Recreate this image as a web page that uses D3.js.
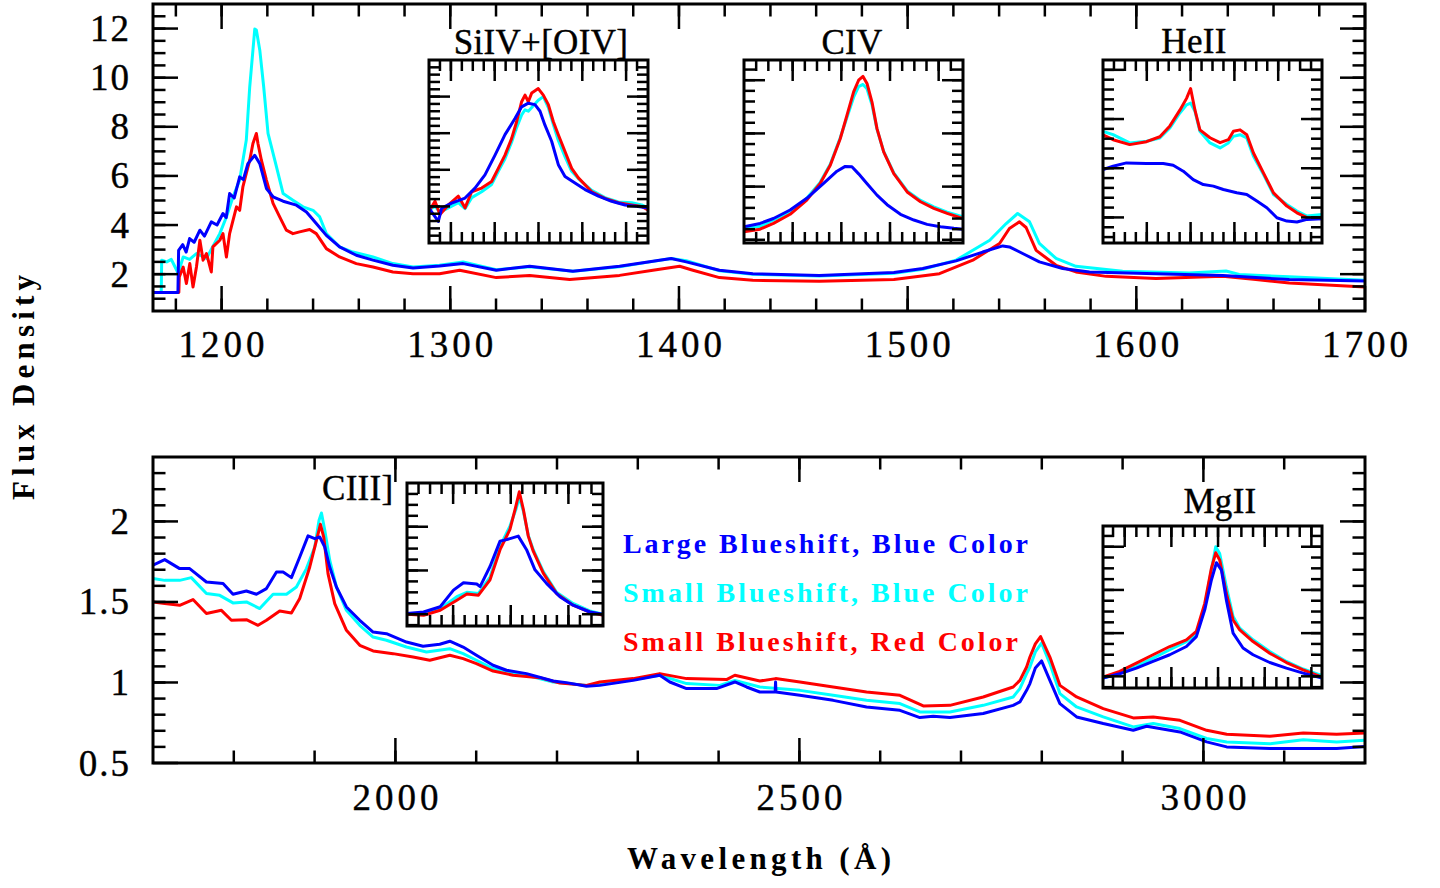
<!DOCTYPE html>
<html><head><meta charset="utf-8">
<script src="https://cdn.jsdelivr.net/npm/d3@7"></script>
<style>body{margin:0;background:#fff;} svg{display:block}</style>
</head><body>
<svg id="c" width="1440" height="888"></svg>
<script>
// ---------------- DATA ----------------
const topXTicks = [1200,1300,1400,1500,1600,1700];
const topYTicks = [2,4,6,8,10,12];
const botXTicks = [2000,2500,3000];
const botYTicks = [0.5,1,1.5,2];

const topBlueWave = [1170,1180.9,1181.2,1183,1184.5,1186,1188,1190.5,1192.5,1195.5,1198,1200.6,1202,1203.5,1205.5,1207.9,1209.5,1211.5,1214.5,1216.7,1219.6,1222.5,1226.9,1232.7,1237.1,1241.4,1245.8,1251.6,1258.9,1266.2,1274.9,1283.7,1295.3,1305.6,1320.1,1334.7,1353.6,1374,1388.6,1396.6,1403.2,1417.7,1432.3,1461.4,1494,1506.6,1521.2,1532.8,1541.6,1544.5,1550.3,1557.6,1567.8,1579.5,1608.6,1637.8,1652.3,1666.9,1700];
const topBlueFlux = [1.25,1.25,2.97,3.2,2.9,3.45,3.3,3.79,3.55,4.13,4.0,4.47,4.3,5.28,5.1,5.96,5.85,6.5,6.84,6.5,5.49,5.15,4.97,4.81,4.53,4.06,3.58,3.11,2.77,2.57,2.36,2.25,2.33,2.43,2.16,2.32,2.12,2.32,2.53,2.64,2.50,2.16,2.02,1.95,2.07,2.23,2.54,2.90,3.15,3.11,2.84,2.50,2.23,2.09,2.02,1.95,1.86,1.78,1.72];

const topCyanWave = [1170,1173.6,1173.8,1176,1178,1179.6,1181,1183.2,1186,1189.0,1191,1193.4,1196,1199.2,1202.1,1205.0,1207.9,1210.8,1212.3,1213.7,1214.5,1215.2,1216.7,1218.4,1220.3,1224.0,1226.9,1231.2,1235.6,1240.0,1242.9,1245.8,1251.6,1257.4,1266.2,1274.9,1283.7,1295.3,1305.6,1320.1,1334.7,1353.6,1374,1388.6,1396.6,1403.2,1417.7,1432.3,1461.4,1494,1506.6,1521.2,1535.9,1543.1,1548.1,1553.3,1557.6,1564.9,1573.6,1594,1623.2,1639.2,1645,1666.9,1700];
const topCyanFlux = [1.25,1.25,2.57,2.5,2.6,2.3,2.03,2.70,2.6,2.84,2.75,2.64,3.1,3.65,4.33,5.15,5.83,7.46,9.63,11.12,11.98,11.94,11.12,9.63,7.73,6.37,5.28,5.01,4.74,4.60,4.33,3.65,3.11,2.90,2.70,2.43,2.29,2.36,2.50,2.18,2.30,2.12,2.30,2.52,2.64,2.55,2.14,2.0,1.93,2.04,2.2,2.57,3.38,4.06,4.47,4.13,3.25,2.64,2.32,2.12,2.05,2.13,1.99,1.89,1.75];

const topRedWave = [1170,1181.3,1181.5,1183.2,1184.6,1186.1,1187.5,1189.0,1190.5,1191.9,1193.4,1195.5,1196.2,1199.2,1200.6,1202.1,1203.5,1206.5,1207.9,1209.3,1210.8,1212.3,1213.7,1215.2,1215.9,1217.4,1219.6,1222.5,1225.4,1228.3,1231.2,1234.1,1238.5,1241.4,1245.8,1251.6,1258.9,1266.2,1274.9,1283.7,1295.3,1304.1,1320.1,1334.7,1352.2,1374,1388.6,1400.3,1406.1,1417.7,1432.3,1461.4,1494,1513.9,1528.5,1540.2,1544.5,1548.9,1551.8,1556.2,1564.9,1573.6,1586.8,1608.6,1637.8,1652.3,1666.9,1700];
const topRedFlux = [1.25,1.25,1.89,2.29,1.62,2.43,1.48,2.29,3.38,2.57,2.84,2.09,3.11,3.38,3.65,2.70,3.65,4.74,4.60,5.55,6.10,6.64,7.32,7.73,7.32,6.64,5.83,4.88,4.33,3.79,3.65,3.72,3.82,3.65,3.04,2.70,2.43,2.29,2.09,2.02,2.02,2.16,1.86,1.95,1.78,1.95,2.16,2.32,2.16,1.86,1.75,1.71,1.78,2.02,2.57,3.25,3.86,4.13,3.90,2.97,2.36,2.09,1.91,1.82,1.91,1.78,1.64,1.48];

const botBlueWave = [1700,1714.5,1733,1745.4,1766.1,1786.7,1799,1815.6,1828,1840.4,1852.8,1861,1871.3,1881.6,1891.9,1900.2,1906.4,1912.6,1918.7,1927,1939.4,1955.9,1972.4,1988.9,2013.7,2034.2,2054.9,2067.3,2083.8,2100.3,2120.9,2137.5,2162.3,2195.2,2211.7,2236.5,2253,2294.2,2327.2,2339.6,2360.3,2397.4,2420.1,2434.6,2451,2470,2470.5,2471,2500.6,2541.8,2583.1,2624.4,2649.1,2665.6,2686.3,2727.5,2764.6,2772.9,2781.2,2785.3,2792,2799.7,2810,2822.4,2843.1,2876,2913.2,2929.7,2970.9,3004,3028.8,3082.4,3123.6,3164.9,3200];
const botBlueFlux = [1.728,1.763,1.707,1.707,1.624,1.614,1.548,1.568,1.548,1.583,1.686,1.686,1.651,1.779,1.91,1.893,1.903,1.841,1.717,1.593,1.469,1.386,1.313,1.303,1.251,1.225,1.237,1.256,1.22,1.169,1.107,1.076,1.055,1.009,0.999,0.976,0.982,1.013,1.045,1.003,0.962,0.962,1.003,0.972,0.941,0.941,1.003,0.941,0.92,0.889,0.848,0.827,0.782,0.79,0.782,0.807,0.858,0.879,0.951,0.993,1.09,1.134,1.013,0.869,0.786,0.745,0.703,0.728,0.693,0.631,0.60,0.59,0.59,0.59,0.603];

const botCyanWave = [1700,1714.5,1733,1747.4,1766.1,1782.6,1799,1815.6,1832.1,1848.6,1865.2,1877.5,1889.9,1900.2,1905.5,1908.5,1912.6,1918.7,1927,1939.4,1955.9,1972.4,1988.9,2013.7,2038.4,2067.3,2083.8,2100.3,2120.9,2137.5,2162.3,2195.2,2236.5,2253,2327.2,2360.3,2401.5,2420.1,2451,2500.6,2541.8,2583.1,2624.4,2649.1,2686.3,2727.5,2764.6,2772.9,2781.2,2785.3,2792,2799.7,2810,2822.4,2843.1,2876,2913.2,2937.9,2970.9,3004,3028.8,3082.4,3123.6,3164.9,3200];
const botCyanFlux = [1.645,1.634,1.634,1.651,1.552,1.541,1.494,1.50,1.459,1.548,1.548,1.593,1.707,1.841,2.007,2.052,1.945,1.759,1.593,1.448,1.355,1.282,1.262,1.22,1.189,1.21,1.179,1.138,1.086,1.071,1.045,1.003,0.982,0.988,1.045,0.993,0.982,1.013,0.972,0.951,0.92,0.889,0.869,0.817,0.817,0.858,0.91,0.962,1.055,1.096,1.19,1.245,1.117,0.931,0.848,0.786,0.724,0.745,0.714,0.652,0.631,0.62,0.645,0.631,0.641];

const botRedWave = [1700,1714.5,1733,1749.5,1766.1,1784.7,1797,1815.6,1830,1840.4,1856.8,1871.3,1881.6,1894,1902.3,1907.2,1911.3,1916.6,1924.9,1939.4,1955.9,1972.4,1997.1,2021.9,2042.5,2067.3,2083.8,2100.3,2120.9,2145.7,2178.7,2203.5,2236.5,2253,2294.2,2327.2,2360.3,2409.8,2420.1,2451,2470.5,2500.6,2541.8,2583.1,2624.4,2653.3,2686.3,2727.5,2764.6,2772.9,2781.2,2785.3,2792,2798.5,2810,2822.4,2843.1,2876,2913.2,2937.9,2970.9,3004,3028.8,3082.4,3123.6,3164.9,3200];
const botRedFlux = [1.50,1.49,1.479,1.515,1.428,1.448,1.386,1.39,1.355,1.386,1.444,1.431,1.521,1.717,1.883,1.982,1.903,1.676,1.49,1.324,1.231,1.196,1.179,1.158,1.138,1.169,1.148,1.117,1.071,1.045,1.03,0.997,0.982,1.003,1.024,1.055,1.024,1.018,1.045,1.009,1.024,1.003,0.972,0.941,0.92,0.854,0.858,0.91,0.972,1.013,1.096,1.158,1.24,1.285,1.158,0.982,0.91,0.838,0.78,0.786,0.765,0.703,0.678,0.666,0.686,0.678,0.686];

const siivRedX  = [0,0.55,1.0,1.77,2.68,3.29,3.9,4.81,5.72,6.33,6.94,7.55,8.01,8.46,8.77,9.07,9.38,9.98,10.44,10.9,11.35,11.81,12.42,13.03,13.64,14.86,16.07,17.29,18.51,19.42,20];
const siivRed   = [0.43,0.57,0.39,0.52,0.64,0.48,0.70,0.75,0.84,1.02,1.20,1.43,1.66,1.93,2.02,1.93,2.05,2.11,2.02,1.89,1.66,1.48,1.25,1.02,0.89,0.70,0.61,0.55,0.52,0.50,0.45];
const siivCyan  = [0.45,0.50,0.42,0.48,0.55,0.47,0.62,0.70,0.80,0.98,1.15,1.38,1.58,1.75,1.82,1.80,1.85,1.95,2.0,1.85,1.62,1.40,1.18,0.98,0.88,0.72,0.62,0.56,0.55,0.52,0.48];
const siivBlueX = [0,0.85,1.16,2.07,3.29,4.2,5.11,6.03,6.94,7.85,8.46,9.07,9.68,10.14,10.59,11.2,11.81,12.42,13.33,14.25,15.47,16.68,17.9,19.1,20];
const siivBlue  = [0.477,0.295,0.477,0.545,0.614,0.75,0.93,1.20,1.48,1.70,1.86,1.91,1.89,1.80,1.61,1.39,1.07,0.91,0.82,0.73,0.64,0.57,0.52,0.50,0.477];

const civRedX  = [0,1.32,2.42,3.79,5.16,6.26,7.09,7.91,8.46,9.01,9.42,9.78,10.11,10.52,10.93,11.48,12.31,13.41,14.51,15.6,16.7,18];
const civRed   = [0.076,0.10,0.154,0.24,0.373,0.53,0.70,0.95,1.17,1.39,1.50,1.536,1.47,1.295,1.045,0.826,0.623,0.45,0.358,0.295,0.248,0.20];
const civCyan  = [0.108,0.125,0.186,0.26,0.39,0.54,0.71,0.96,1.15,1.34,1.44,1.46,1.42,1.27,1.04,0.83,0.63,0.46,0.37,0.31,0.26,0.215];
const civBlueX = [0,1.32,2.42,3.79,5.16,6.54,7.64,8.32,8.87,9.42,10.1,10.93,11.76,12.86,13.96,15.05,16.15,17.25,18];
const civBlue  = [0.123,0.154,0.20,0.28,0.39,0.53,0.645,0.69,0.686,0.62,0.53,0.42,0.33,0.24,0.186,0.145,0.123,0.108,0.10];

const heiiRedX  = [0,0.92,2.44,3.97,5.19,6.11,7.02,7.63,8.0,8.4,8.85,9.77,10.69,11.45,11.91,12.52,13.13,13.74,14.66,15.57,16.79,17.71,18.63,20];
const heiiRed   = [1.34,1.29,1.24,1.27,1.32,1.43,1.59,1.71,1.81,1.59,1.39,1.31,1.26,1.29,1.375,1.39,1.34,1.155,0.95,0.75,0.615,0.547,0.497,0.486];
const heiiCyan  = [1.375,1.341,1.257,1.274,1.307,1.409,1.561,1.645,1.662,1.578,1.375,1.257,1.206,1.257,1.324,1.341,1.307,1.122,0.936,0.733,0.632,0.564,0.514,0.53];
const heiiBlueX = [0,0.92,2.14,3.97,5.5,6.41,7.33,8.24,9.16,10.08,10.99,12.21,13.13,14.05,14.96,15.88,16.79,17.71,18.63,20];
const heiiBlue  = [0.986,1.02,1.054,1.047,1.047,1.03,0.97,0.885,0.834,0.818,0.784,0.75,0.733,0.666,0.598,0.497,0.463,0.453,0.48,0.486];

const ciiiRedX  = [0,1.44,2.88,4.32,5.19,6.2,7.2,8.07,8.93,9.45,9.74,10.09,10.52,10.95,11.82,12.97,14.4,15.85,17];
const ciiiRed   = [1.20,1.195,1.218,1.264,1.292,1.287,1.357,1.495,1.588,1.695,1.76,1.68,1.557,1.488,1.388,1.295,1.241,1.21,1.195];
const ciiiCyan  = [1.203,1.20,1.225,1.28,1.30,1.295,1.37,1.51,1.603,1.68,1.734,1.672,1.56,1.495,1.395,1.30,1.249,1.215,1.20];
const ciiiBlueX = [0,1.44,2.88,4.03,4.9,6.05,6.34,7.2,8.07,8.65,9.65,10.37,11.1,12.1,13.26,14.4,15.85,17];
const ciiiBlue  = [1.203,1.21,1.234,1.31,1.344,1.338,1.326,1.418,1.534,1.541,1.557,1.495,1.403,1.341,1.28,1.241,1.21,1.20];

const mgiiRedX  = [-9.86,-8.43,-7.0,-5.57,-4.14,-2.71,-1.86,-1.14,-0.57,-0.2,0.14,0.71,1.29,1.86,3.0,4.43,5.86,7.29,8.91];
const mgiiRed   = [0.997,1.023,1.061,1.10,1.138,1.169,1.208,1.338,1.50,1.572,1.539,1.385,1.261,1.215,1.161,1.107,1.064,1.03,0.997];
const mgiiCyan  = [0.992,1.015,1.046,1.084,1.123,1.161,1.192,1.323,1.492,1.60,1.569,1.415,1.277,1.223,1.169,1.115,1.069,1.034,1.003];
const mgiiBlueX = [-9.86,-8.43,-7.0,-5.57,-4.14,-2.71,-1.86,-1.14,-0.57,-0.14,0.29,0.71,1.29,2.14,3.0,4.43,5.86,7.29,8.91];
const mgiiBlue  = [0.992,1.012,1.038,1.069,1.10,1.138,1.184,1.308,1.446,1.526,1.492,1.354,1.20,1.131,1.10,1.064,1.038,1.015,0.992];

const legendLabels = ["Large Blueshift, Blue Color","Small Blueshift, Blue Color","Small Blueshift, Red Color"];
const seriesColors = ["#0000ff","#00ffff","#ff0000"];

// ---------------- DRAWING ----------------
const BLUE = seriesColors[0], CYAN = seriesColors[1], RED = seriesColors[2];
const svg = d3.select('#c');
let clipN = 0;

function tickVals(d0, d1, step) {
  const lo = Math.min(d0, d1), hi = Math.max(d0, d1), a = [];
  for (let i = Math.ceil(lo / step - 1e-9); i * step <= hi + 1e-9; i++) {
    const v = +(i * step).toFixed(6);
    if (Math.abs(v - lo) > 1e-6 && Math.abs(v - hi) > 1e-6) a.push(v);
  }
  return a;
}

function spectrum(g, x, y, xs, ys, color, clip, sw) {
  g.append('path')
    .datum(d3.zip(xs, ys))
    .attr('clip-path', `url(#${clip})`)
    .attr('fill', 'none').attr('stroke', color).attr('stroke-width', sw)
    .attr('stroke-linejoin', 'round').attr('stroke-linecap', 'round')
    .attr('d', d3.line().x(d => x(d[0])).y(d => y(d[1])));
}

function frame(g, x, y, o) {
  const [x0, x1] = x.range(), [yb, yt] = y.range();
  const tk = g.append('g').attr('stroke', '#000').attr('stroke-width', o.tw);
  const vt = (v, L) => {
    tk.append('line').attr('x1', x(v)).attr('x2', x(v)).attr('y1', yb).attr('y2', yb - L);
    tk.append('line').attr('x1', x(v)).attr('x2', x(v)).attr('y1', yt).attr('y2', yt + L);
  };
  const ht = (v, L) => {
    tk.append('line').attr('y1', y(v)).attr('y2', y(v)).attr('x1', x0).attr('x2', x0 + L);
    tk.append('line').attr('y1', y(v)).attr('y2', y(v)).attr('x1', x1).attr('x2', x1 - L);
  };
  const xd = x.domain(), yd = y.domain();
  tickVals(xd[0], xd[1], o.xMin).forEach(v => vt(v, o.minL));
  o.xMaj.forEach(v => vt(v, o.majL));
  tickVals(yd[0], yd[1], o.yMin).forEach(v => ht(v, o.minL));
  o.yMaj.forEach(v => ht(v, o.majL));
  g.append('rect').attr('x', x0).attr('y', yt).attr('width', x1 - x0).attr('height', yb - yt)
    .attr('fill', 'none').attr('stroke', '#000').attr('stroke-width', o.fw);
}

function makeClip(x, y) {
  const id = 'cl' + (clipN++);
  const [x0, x1] = x.range(), [yb, yt] = y.range();
  svg.append('clipPath').attr('id', id).append('rect')
    .attr('x', x0).attr('y', yt).attr('width', x1 - x0).attr('height', yb - yt);
  return id;
}

const serif = '"Liberation Serif", "Times New Roman", serif';

function mainPanel(box, xd, yd, xMaj, xMin, yMaj, yMin, series, xLabBase, fmt) {
  const x = d3.scaleLinear().domain(xd).range([box.x0, box.x1]);
  const y = d3.scaleLinear().domain(yd).range([box.y1, box.y0]);
  const g = svg.append('g');
  const clip = makeClip(x, y);
  series.forEach(s => spectrum(g, x, y, s[0], s[1], s[2], clip, 3));
  frame(g, x, y, {xMaj, xMin, yMaj, yMin, majL: 25, minL: 12.5, tw: 2.5, fw: 3});
  g.append('g').selectAll('text').data(xMaj).join('text')
    .attr('x', d => x(d) + 2).attr('y', xLabBase).attr('text-anchor', 'middle')
    .attr('font-family', serif).attr('font-size', 37).attr('letter-spacing', 4)
    .attr('stroke', '#000').attr('stroke-width', 0.4)
    .text(d => d);
  g.append('g').selectAll('text').data(yMaj).join('text')
    .attr('x', 131).attr('y', d => y(d) + 12.5).attr('text-anchor', 'end')
    .attr('font-family', serif).attr('font-size', 37).attr('letter-spacing', 2)
    .attr('stroke', '#000').attr('stroke-width', 0.4)
    .text(fmt);
  return {x, y};
}

function inset(box, xd, yd, xMin, xMaj, yMin, yMaj, series) {
  const x = d3.scaleLinear().domain(xd).range([box.x0, box.x1]);
  const y = d3.scaleLinear().domain(yd).range([box.y1, box.y0]);
  const g = svg.append('g');
  g.append('rect').attr('x', box.x0).attr('y', box.y0).attr('width', box.x1 - box.x0)
    .attr('height', box.y1 - box.y0).attr('fill', '#fff');
  const clip = makeClip(x, y);
  series.forEach(s => spectrum(g, x, y, s[0], s[1], s[2], clip, 3));
  frame(g, x, y, {xMaj, xMin, yMaj, yMin, majL: 21, minL: 11, tw: 2.5, fw: 3});
}

function title(txt, xPos, yPos, anchor) {
  svg.append('text').attr('x', xPos).attr('y', yPos).attr('text-anchor', anchor || 'middle')
    .attr('font-family', serif).attr('font-size', 35).attr('letter-spacing', 0.3)
    .attr('stroke', '#000').attr('stroke-width', 0.4).text(txt);
}

// Top panel
mainPanel({x0: 153, x1: 1365, y0: 4, y1: 311}, [1170, 1700], [0.5, 13],
  topXTicks, 20, topYTicks, 0.5,
  [[topCyanWave, topCyanFlux, CYAN], [topRedWave, topRedFlux, RED], [topBlueWave, topBlueFlux, BLUE]],
  357, d => d);

// Bottom panel
mainPanel({x0: 153, x1: 1365, y0: 457, y1: 763}, [1700, 3200], [0.5, 2.4],
  botXTicks, 100, botYTicks, 0.1,
  [[botCyanWave, botCyanFlux, CYAN], [botRedWave, botRedFlux, RED], [botBlueWave, botBlueFlux, BLUE]],
  810, d => d3.format('~g')(d));

// Insets
inset({x0: 429, x1: 648, y0: 60, y1: 243}, [0, 20], [0, 2.5], 1, [2, 6, 10, 14, 18], 0.1, [0.5, 1, 1.5, 2],
  [[siivRedX, siivCyan, CYAN], [siivRedX, siivRed, RED], [siivBlueX, siivBlue, BLUE]]);
title('SiIV+[OIV]', 541, 54);

inset({x0: 744, x1: 963, y0: 60, y1: 243}, [0, 18], [-0.03, 1.69], 1, [4, 8, 12, 16], 0.1, [0, 0.5, 1, 1.5],
  [[civRedX, civCyan, CYAN], [civRedX, civRed, RED], [civBlueX, civBlue, BLUE]]);
title('CIV', 852, 54);

inset({x0: 1103, x1: 1322, y0: 60, y1: 243}, [0, 20], [0.24, 2.1], 1, [4, 8, 12, 16], 0.1, [0.5, 1, 1.5, 2],
  [[heiiRedX, heiiCyan, CYAN], [heiiRedX, heiiRed, RED], [heiiBlueX, heiiBlue, BLUE]]);
title('HeII', 1194, 53);

inset({x0: 407, x1: 603, y0: 483, y1: 626}, [0, 17], [1.146, 1.80], 1, [4, 9, 14], 0.05, [1.2, 1.4, 1.6],
  [[ciiiRedX, ciiiCyan, CYAN], [ciiiRedX, ciiiRed, RED], [ciiiBlueX, ciiiBlue, BLUE]]);
title('CIII]', 322, 500, 'start');

inset({x0: 1103, x1: 1322, y0: 526, y1: 688}, [-9.86, 8.91], [0.946, 1.696], 1, [-8, -4, 0, 4, 8], 0.05, [1.0, 1.2, 1.4, 1.6],
  [[mgiiRedX, mgiiCyan, CYAN], [mgiiRedX, mgiiRed, RED], [mgiiBlueX, mgiiBlue, BLUE]]);
title('MgII', 1220, 513);

// Legend (typewriter-spaced text stretched to the reference widths)
const legendWidths = [405, 405, 395];
svg.append('g').selectAll('text').data(legendLabels).join('text')
  .attr('x', 623).attr('y', (d, i) => 553 + i * 49)
  .attr('font-family', serif).attr('font-weight', 'bold').attr('font-size', 28)
  .attr('textLength', (d, i) => legendWidths[i]).attr('lengthAdjust', 'spacing')
  .attr('fill', (d, i) => seriesColors[i])
  .style('white-space', 'pre')
  .text(d => d);

// Axis titles
svg.append('text').attr('x', 627).attr('y', 869)
  .attr('font-family', serif).attr('font-weight', 'bold').attr('font-size', 31)
  .attr('textLength', 264).attr('lengthAdjust', 'spacing')
  .text('Wavelength (Å)');
svg.append('text').attr('transform', 'translate(34,500) rotate(-90)')
  .attr('font-family', serif).attr('font-weight', 'bold').attr('font-size', 31)
  .attr('textLength', 225).attr('lengthAdjust', 'spacing')
  .text('Flux Density');
</script>
</body></html>
